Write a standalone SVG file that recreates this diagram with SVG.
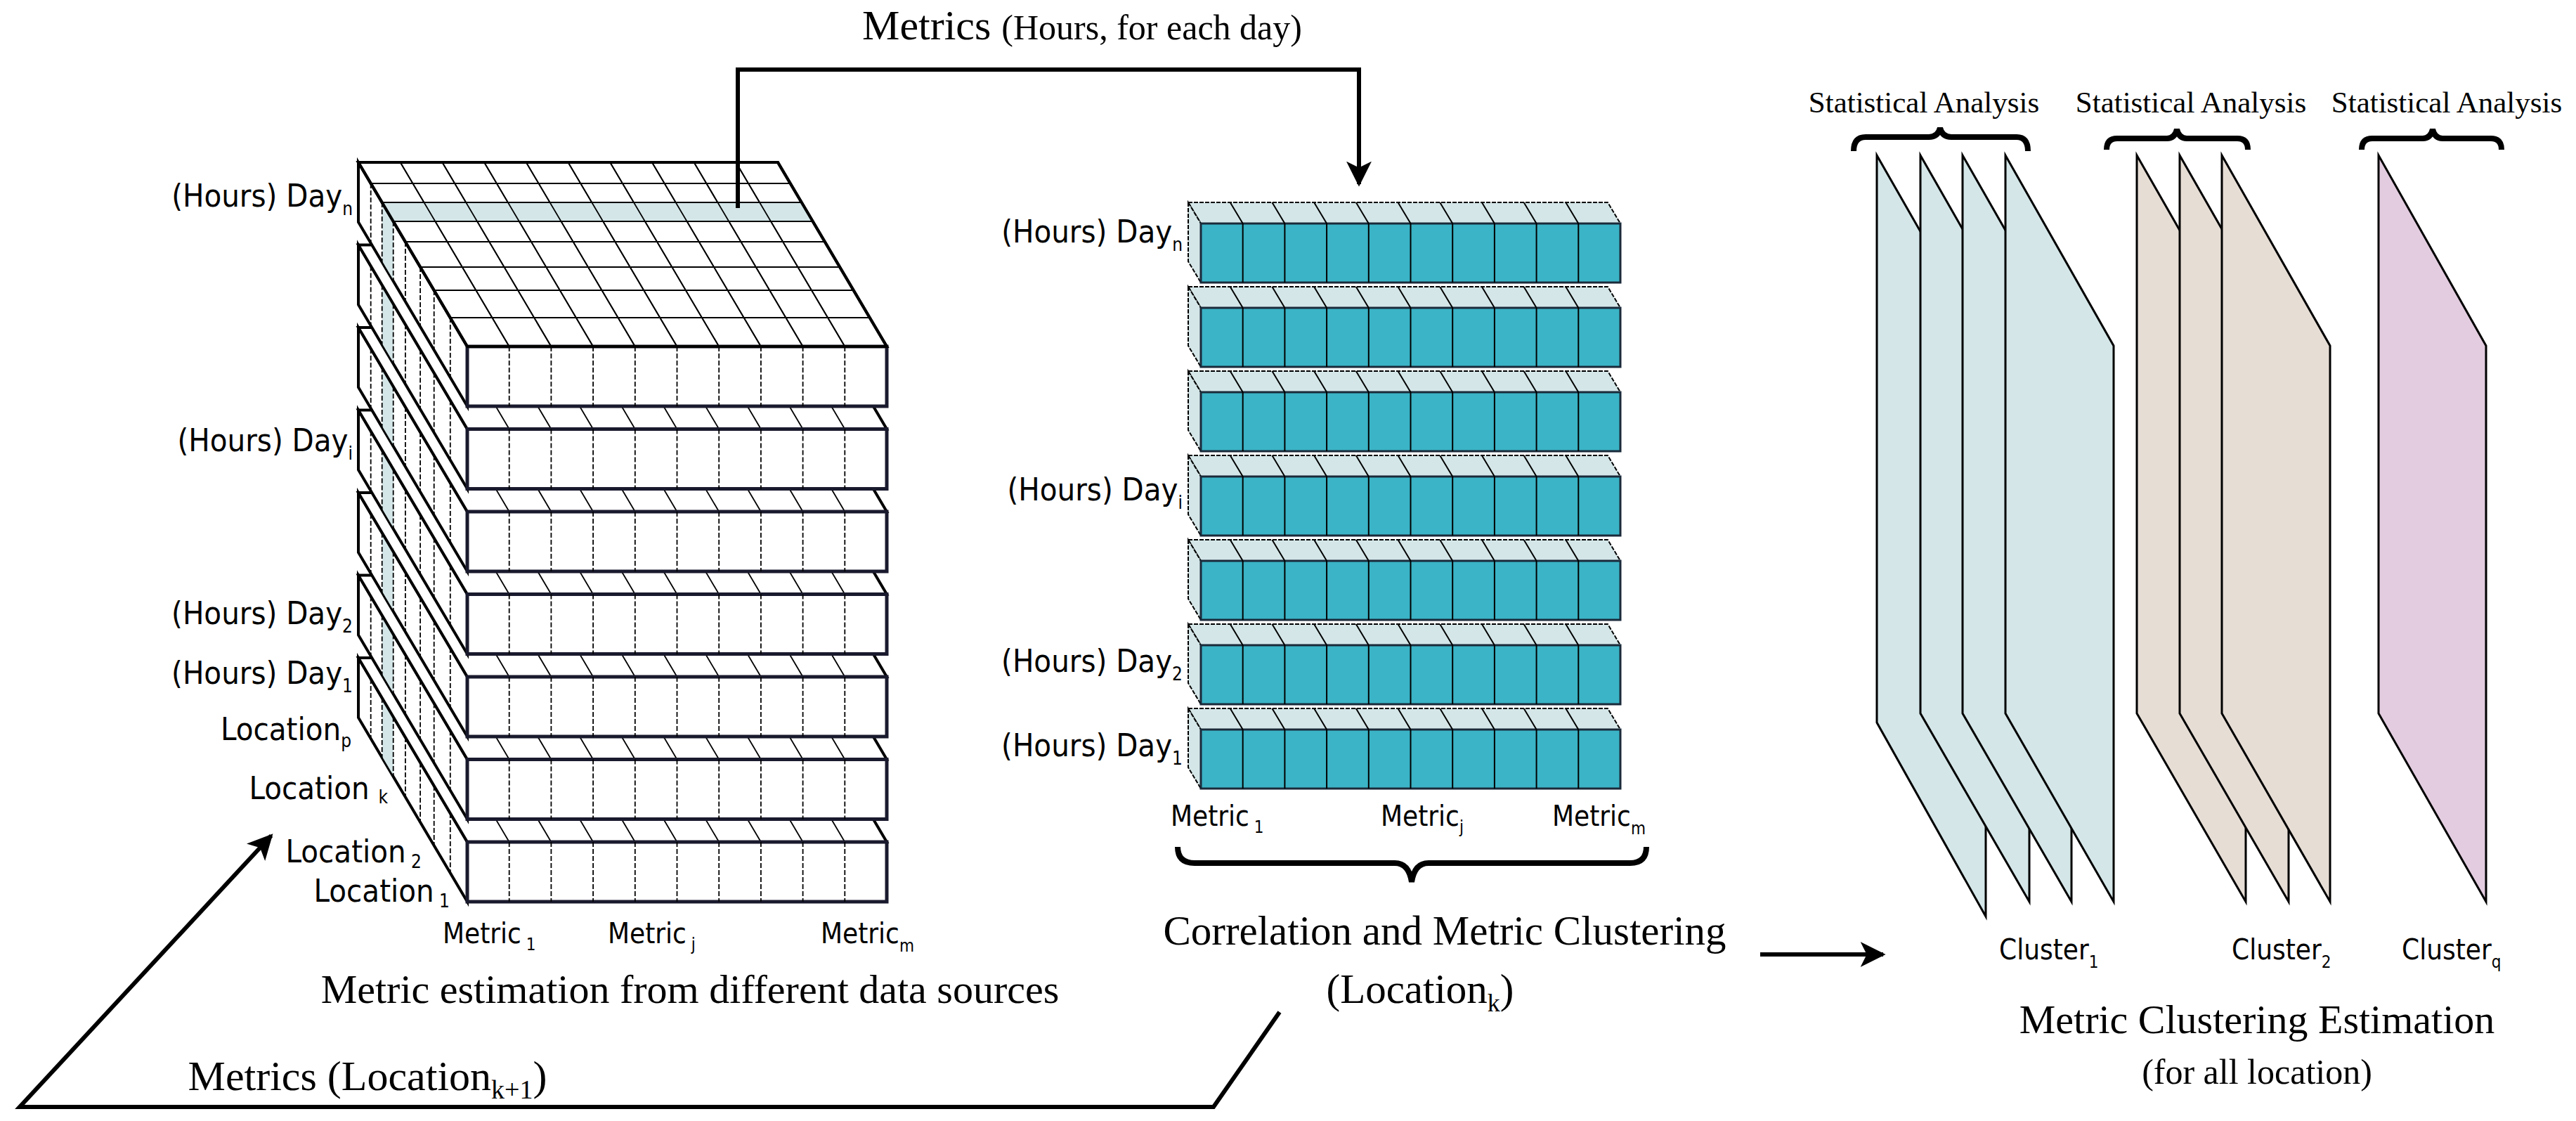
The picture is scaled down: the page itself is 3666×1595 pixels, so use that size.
<svg xmlns="http://www.w3.org/2000/svg" xmlns:xlink="http://www.w3.org/1999/xlink" width="3666" height="1595" viewBox="0 0 3666 1595">
<style>
.sans{font-family:"DejaVu Sans Condensed","DejaVu Sans",sans-serif;font-stretch:condensed;fill:#000}
.serif{font-family:"Liberation Serif",serif;fill:#000}
.thick{fill:white;stroke:#000;stroke-width:4;stroke-linejoin:miter}
.front{fill:white;stroke:#1a1a2e;stroke-width:5}
.thin{stroke:#000;stroke-width:1.8;fill:none}
.dash{stroke:#000;stroke-width:1.8;stroke-dasharray:7 3;fill:none}
.conn{fill:none;stroke:#000;stroke-width:6}
.plane{stroke:#000;stroke-width:3}
.brace{fill:none;stroke:#000;stroke-width:8}
</style>
<defs>
<marker id="ah" viewBox="0 0 10 10" refX="9" refY="5" markerWidth="6" markerHeight="6" markerUnits="strokeWidth" orient="auto">
<path d="M0,0 L10,5 L0,10 L2.5,5 z" fill="#000"/>
</marker>
<g id="topcols">
<path class="thin" d="M569.7,231L724.7,493M629.4,231L784.4,493M689.1,231L844.1,493M748.8,231L903.8,493M808.5,231L963.5,493M868.2,231L1023.2,493M927.9,231L1082.9,493M987.6,231L1142.6,493M1047.3,231L1202.3,493"/>
</g>
<g id="slab">
<polygon class="thick" points="510,231 665,493 665,578 510,316"/>
<polygon fill="#d4e6e8" points="544,288 560,315 560,400 544,373"/>
<path class="dash" d="M527.7,261v85M543.7,288v85M559.7,315v85M576.9,344v85M598.1,380v85M617.7,413v85M640.8,452v85"/>
<path class="thin" d="M510,316L665,578"/>
<polygon class="thick" points="510,231 1107,231 1262,493 665,493"/>
<use xlink:href="#topcols"/>
<rect class="front" x="665" y="493" width="597" height="85"/>
<path class="dash" d="M724.7,493v85M784.4,493v85M844.1,493v85M903.8,493v85M963.5,493v85M1023.2,493v85M1082.9,493v85M1142.6,493v85M1202.3,493v85"/>
</g>
<g id="row">
<polygon fill="#d4e6e8" stroke="#000" stroke-width="2" stroke-dasharray="6 2" points="1691,288 2288,288 2306,318 1709,318"/>
<polygon fill="#d4e6e8" stroke="#000" stroke-width="2" stroke-dasharray="6 2" points="1691,288 1709,318 1709,402 1691,372"/>
<rect x="1709" y="318" width="597" height="84" fill="#3ab4c6" stroke="#1a2a3a" stroke-width="3"/>
<path stroke="#000" stroke-width="2" fill="none" d="M1768.7,318v84M1828.4,318v84M1888.1,318v84M1947.8,318v84M2007.5,318v84M2067.2,318v84M2126.9,318v84M2186.6,318v84M2246.3,318v84"/>
<path stroke="#000" stroke-width="2" fill="none" d="M1750.7,288L1768.7,318M1810.4,288L1828.4,318M1870.1,288L1888.1,318M1929.8,288L1947.8,318M1989.5,288L2007.5,318M2049.2,288L2067.2,318M2108.9,288L2126.9,318M2168.6,288L2186.6,318M2228.3,288L2246.3,318"/>
</g>
</defs>
<rect width="3666" height="1595" fill="white"/>

<g id="data-cube">
<use xlink:href="#slab" transform="translate(0,705)"/>
<use xlink:href="#slab" transform="translate(0,587.5)"/>
<use xlink:href="#slab" transform="translate(0,470)"/>
<use xlink:href="#slab" transform="translate(0,352.5)"/>
<use xlink:href="#slab" transform="translate(0,235)"/>
<use xlink:href="#slab" transform="translate(0,117.5)"/>
<use xlink:href="#slab"/>
<polygon fill="#d4e6e8" points="543.7,288 1140.7,288 1156.7,315 559.7,315"/>
<use xlink:href="#topcols"/>
<path class="thin" d="M527.7,261H1124.7M543.7,288H1140.7M559.7,315H1156.7M576.9,344H1173.9M598.1,380H1195.1M617.7,413H1214.7M640.8,452H1237.8"/>
<polygon fill="none" stroke="#000" stroke-width="4" points="510,231 1107,231 1262,493 665,493"/>
<text class="sans" font-size="45" text-anchor="end" x="502" y="294">(Hours) Day<tspan font-size="26" dy="12">n</tspan></text>
<text class="sans" font-size="45" text-anchor="end" x="502" y="642">(Hours) Day<tspan font-size="26" dy="12">i</tspan></text>
<text class="sans" font-size="45" text-anchor="end" x="502" y="888">(Hours) Day<tspan font-size="26" dy="12">2</tspan></text>
<text class="sans" font-size="45" text-anchor="end" x="502" y="973">(Hours) Day<tspan font-size="26" dy="12">1</tspan></text>
<text class="sans" font-size="45" text-anchor="end" x="500" y="1053">Location<tspan font-size="26" dy="10">p</tspan></text>
<text class="sans" font-size="45" text-anchor="end" x="552" y="1137">Location <tspan font-size="26" dy="6">k</tspan></text>
<text class="sans" font-size="45" text-anchor="end" x="600" y="1227">Location<tspan font-size="26" dy="8"> 2</tspan></text>
<text class="sans" font-size="45" text-anchor="end" x="640" y="1283">Location<tspan font-size="26" dy="8"> 1</tspan></text>
<text class="sans" font-size="40" x="630" y="1342">Metric<tspan font-size="24" dy="10"> 1</tspan></text>
<text class="sans" font-size="40" x="865" y="1342">Metric<tspan font-size="24" dy="10"> j</tspan></text>
<text class="sans" font-size="40" x="1168" y="1342">Metric<tspan font-size="24" dy="12">m</tspan></text>
<text class="serif" font-size="58" text-anchor="middle" x="982" y="1427">Metric estimation from different data sources</text>
</g>

<g id="location-matrix">
<use xlink:href="#row"/>
<use xlink:href="#row" transform="translate(0,120)"/>
<use xlink:href="#row" transform="translate(0,240)"/>
<use xlink:href="#row" transform="translate(0,360)"/>
<use xlink:href="#row" transform="translate(0,480)"/>
<use xlink:href="#row" transform="translate(0,600)"/>
<use xlink:href="#row" transform="translate(0,720)"/>
<text class="sans" font-size="45" text-anchor="end" x="1683" y="345">(Hours) Day<tspan font-size="26" dy="12">n</tspan></text>
<text class="sans" font-size="45" text-anchor="end" x="1683" y="712">(Hours) Day<tspan font-size="26" dy="12">i</tspan></text>
<text class="sans" font-size="45" text-anchor="end" x="1683" y="956">(Hours) Day<tspan font-size="26" dy="12">2</tspan></text>
<text class="sans" font-size="45" text-anchor="end" x="1683" y="1076">(Hours) Day<tspan font-size="26" dy="12">1</tspan></text>
<text class="sans" font-size="40" x="1666" y="1175">Metric<tspan font-size="24" dy="10"> 1</tspan></text>
<text class="sans" font-size="40" x="1965" y="1175">Metric<tspan font-size="24" dy="10">j</tspan></text>
<text class="sans" font-size="40" x="2209" y="1175">Metric<tspan font-size="24" dy="12">m</tspan></text>
<path class="brace" d="M1676,1205 Q1676,1228 1700,1228 L1985,1228 Q2005,1228 2009,1255 Q2013,1228 2033,1228 L2320,1228 Q2343,1228 2343,1205"/>
<text class="serif" font-size="59" text-anchor="middle" x="2056" y="1344">Correlation and Metric Clustering</text>
<text class="serif" font-size="59" text-anchor="middle" x="2021" y="1427">(Location<tspan font-size="36" dy="12">k</tspan><tspan dy="-12">)</tspan></text>
</g>

<g id="clusters">
<polygon class="plane" fill="#d4e6e8" points="2671,221 2826,492 2826,1304 2671,1028"/>
<polygon class="plane" fill="#d4e6e8" points="2733,221 2888,492 2888,1283 2733,1015"/>
<polygon class="plane" fill="#d4e6e8" points="2793,221 2948,492 2948,1283 2793,1015"/>
<polygon class="plane" fill="#d4e6e8" points="2854,221 3008,492 3008,1283 2854,1015"/>
<polygon class="plane" fill="#e6ddd5" points="3041,221 3196,492 3196,1283 3041,1015"/>
<polygon class="plane" fill="#e6ddd5" points="3102,221 3257,492 3257,1283 3102,1015"/>
<polygon class="plane" fill="#e6ddd5" points="3162,221 3316,492 3316,1283 3162,1015"/>
<polygon class="plane" fill="#e3cce0" points="3385,221 3538,492 3538,1283 3385,1015"/>
<path class="brace" d="M2638,215 Q2638,195 2655,195 L2745,195 Q2758,195 2761,182 Q2764,195 2777,195 L2870,195 Q2886,195 2886,215"/>
<path class="brace" d="M2998,213 Q2998,197 3013,197 L3084,197 Q3095,197 3098,184 Q3101,197 3112,197 L3184,197 Q3199,197 3199,213"/>
<path class="brace" d="M3361,213 Q3361,197 3376,197 L3448,197 Q3459,197 3462,184 Q3465,197 3476,197 L3545,197 Q3560,197 3560,213"/>
<text class="serif" font-size="43" text-anchor="middle" x="2738" y="160">Statistical Analysis</text>
<text class="serif" font-size="43" text-anchor="middle" x="3118" y="160">Statistical Analysis</text>
<text class="serif" font-size="43" text-anchor="middle" x="3482" y="160">Statistical Analysis</text>
<text class="sans" font-size="40" x="2845" y="1365">Cluster<tspan font-size="24" dy="12">1</tspan></text>
<text class="sans" font-size="40" x="3176" y="1365">Cluster<tspan font-size="24" dy="12">2</tspan></text>
<text class="sans" font-size="40" x="3418" y="1365">Cluster<tspan font-size="24" dy="12">q</tspan></text>
<text class="serif" font-size="58" text-anchor="middle" x="3212" y="1470">Metric Clustering Estimation</text>
<text class="serif" font-size="50" text-anchor="middle" x="3212" y="1542">(for all location)</text>
</g>

<g id="connectors">
<path class="conn" d="M1050,296 V99 H1934 V262" marker-end="url(#ah)"/>
<path class="conn" d="M2505,1358 H2680" stroke-width="7" marker-end="url(#ah)"/>
<path class="conn" d="M1821,1440 L1727,1575 H28 L386,1189" marker-end="url(#ah)"/>
<text class="serif" font-size="60" text-anchor="middle" x="1540" y="56">Metrics <tspan font-size="50">(Hours, for each day)</tspan></text>
<text class="serif" font-size="60" text-anchor="middle" x="523" y="1551">Metrics (Location<tspan font-size="38" dy="12">k+1</tspan><tspan dy="-12">)</tspan></text>
</g>
</svg>
